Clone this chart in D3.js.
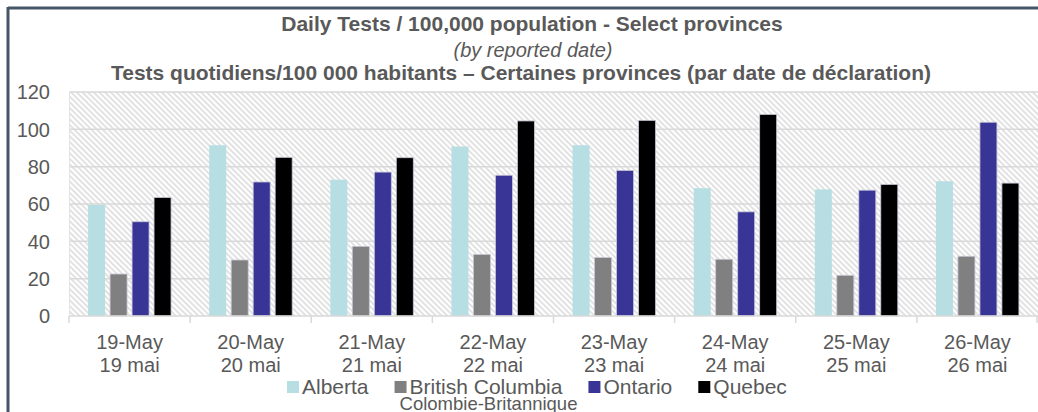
<!DOCTYPE html>
<meta charset="utf-8">
<style>
body { margin: 0; background: #fff; }
svg text { font-family: "Liberation Sans", Arial, sans-serif; fill: #595959; }
.title { font-weight: bold; font-size: 21px; }
.sub { font-style: italic; font-size: 20px; }
.ytick { font-size: 20px; }
.xlab { font-size: 20px; }
.leg { font-size: 21px; }
</style>
<svg width="1038" height="412"></svg>
<script src="https://d3js.org/d3.v7.min.js"></script>
<script>
// daily tests per 100k
var datesEn = ["19-May", "20-May", "21-May", "22-May", "23-May", "24-May", "25-May", "26-May"];
var datesFr = ["19 mai", "20 mai", "21 mai", "22 mai", "23 mai", "24 mai", "25 mai", "26 mai"];
var provinces = ["Alberta", "British Columbia", "Ontario", "Quebec"];
var alberta  = [59.5, 91.5, 73, 90.8, 91.5, 68.5, 67.8, 72.2];
var bc       = [22.5, 30, 37.3, 33, 31.3, 30.4, 21.8, 32];
var ontario  = [50.5, 71.8, 77.1, 75.4, 78, 55.8, 67.4, 103.8];
var quebec   = [63.5, 85, 84.8, 104.5, 104.8, 108, 70.5, 71.2];
var yTicks = [0, 20, 40, 60, 80, 100, 120];
var colors = ["#b7dfe3", "#808080", "#383597", "#000000"];

var series = [alberta, bc, ontario, quebec];
var rows = datesEn.map(function(d, i) {
  return { date: d, fr: datesFr[i], values: series.map(function(s) { return s[i]; }) };
});

var svg = d3.select("svg");
var plotL = 69, plotR = 1038, plotT = 92, plotB = 316;

// frame lines (left + top)
svg.append("line").attr("x1", 8).attr("x2", 1038).attr("y1", 8).attr("y2", 8)
  .attr("stroke", "#465568").attr("stroke-width", 3);
svg.append("line").attr("x1", 8).attr("x2", 8).attr("y1", 7).attr("y2", 412)
  .attr("stroke", "#465568").attr("stroke-width", 3);

var defs = svg.append("defs");
var pat = defs.append("pattern")
  .attr("id", "hatch")
  .attr("patternUnits", "userSpaceOnUse")
  .attr("width", 4).attr("height", 4)
  .attr("patternTransform", "rotate(-45)");
pat.append("rect").attr("width", 4).attr("height", 4).attr("fill", "#ffffff");
pat.append("line").attr("x1", 1).attr("x2", 1).attr("y1", 0).attr("y2", 4)
  .attr("stroke", "#d6d6d6").attr("stroke-width", 1.4);

var x0 = d3.scaleBand().domain(datesEn).range([plotL, plotR])
  .paddingInner(0.315).paddingOuter(0.1575);
var x1 = d3.scaleBand().domain(provinces).range([0, x0.bandwidth()])
  .paddingInner(0.227);
var y = d3.scaleLinear().domain([0, 120]).range([plotB, plotT]);

svg.append("rect").attr("x", plotL).attr("y", plotT)
  .attr("width", plotR - plotL).attr("height", plotB - plotT)
  .attr("fill", "url(#hatch)");

// gridlines
svg.append("g").selectAll("line").data(yTicks.slice(1)).enter().append("line")
  .attr("x1", plotL).attr("x2", plotR)
  .attr("y1", function(d) { return y(d); }).attr("y2", function(d) { return y(d); })
  .attr("stroke", "#d9d9d9").attr("stroke-width", 1.5);
svg.append("line").attr("x1", plotL + 0.5).attr("x2", plotL + 0.5).attr("y1", plotT).attr("y2", plotB)
  .attr("stroke", "#e3e3e3");

// y labels
svg.append("g").selectAll("text").data(yTicks).enter().append("text")
  .attr("class", "ytick")
  .attr("x", 50).attr("y", function(d) { return y(d); })
  .attr("dy", "0.36em").attr("text-anchor", "end")
  .text(function(d) { return d; });

// bars
var groups = svg.append("g").selectAll("g").data(rows).enter().append("g")
  .attr("transform", function(d) { return "translate(" + x0(d.date) + ",0)"; });
groups.selectAll("rect").data(function(d) { return d.values; }).enter().append("rect")
  .attr("x", function(d, i) { return x1(provinces[i]); })
  .attr("width", x1.bandwidth())
  .attr("y", function(d) { return y(d); })
  .attr("height", function(d) { return y(0) - y(d); })
  .attr("fill", function(d, i) { return colors[i]; })
  .attr("stroke", function(d, i) { return i == 0 ? "none" : "#c8c8d8"; })
  .attr("stroke-width", 0.8);

// x axis line and ticks at category boundaries
var step = x0.step();
var bounds = datesEn.map(function(d) { return x0(d) - (step - x0.bandwidth()) / 2; });
bounds.push(plotR - 1);
svg.append("line").attr("x1", plotL).attr("x2", plotR).attr("y1", plotB).attr("y2", plotB)
  .attr("stroke", "#d9d9d9").attr("stroke-width", 1.5);
svg.append("g").selectAll("line").data(bounds).enter().append("line")
  .attr("x1", function(d) { return d; }).attr("x2", function(d) { return d; })
  .attr("y1", plotB).attr("y2", plotB + 7)
  .attr("stroke", "#d9d9d9").attr("stroke-width", 1.5);

// x labels
var xl = svg.append("g").selectAll("g").data(rows).enter().append("g");
xl.append("text").attr("class", "xlab").attr("text-anchor", "middle")
  .attr("x", function(d) { return x0(d.date) + x0.bandwidth() / 2; })
  .attr("y", 349).text(function(d) { return d.date; });
xl.append("text").attr("class", "xlab").attr("text-anchor", "middle")
  .attr("x", function(d) { return x0(d.date) + x0.bandwidth() / 2; })
  .attr("y", 372).text(function(d) { return d.fr; });

// titles
svg.append("text").attr("class", "title").attr("x", 532).attr("y", 31)
  .attr("text-anchor", "middle").text("Daily Tests / 100,000 population - Select provinces");
svg.append("text").attr("class", "sub").attr("x", 533).attr("y", 57)
  .attr("text-anchor", "middle").text("(by reported date)");
svg.append("text").attr("class", "title").attr("x", 521).attr("y", 80)
  .attr("text-anchor", "middle")
  .text("Tests quotidiens/100 000 habitants \u2013 Certaines provinces (par date de d\u00e9claration)");

// legend
var lx = 287;
provinces.forEach(function(p, i) {
  svg.append("rect").attr("x", lx).attr("y", 381).attr("width", 12).attr("height", 12)
    .attr("fill", colors[i]);
  var t = svg.append("text").attr("class", "leg").attr("x", lx + 15).attr("y", 394).text(p);
  if (i == 1) {
    svg.append("text").attr("class", "leg").style("font-size", "18.5px")
      .attr("x", lx + 5).attr("y", 410).text("Colombie-Britannique");
  }
  lx += 15 + t.node().getComputedTextLength() + 26;
});
</script>
